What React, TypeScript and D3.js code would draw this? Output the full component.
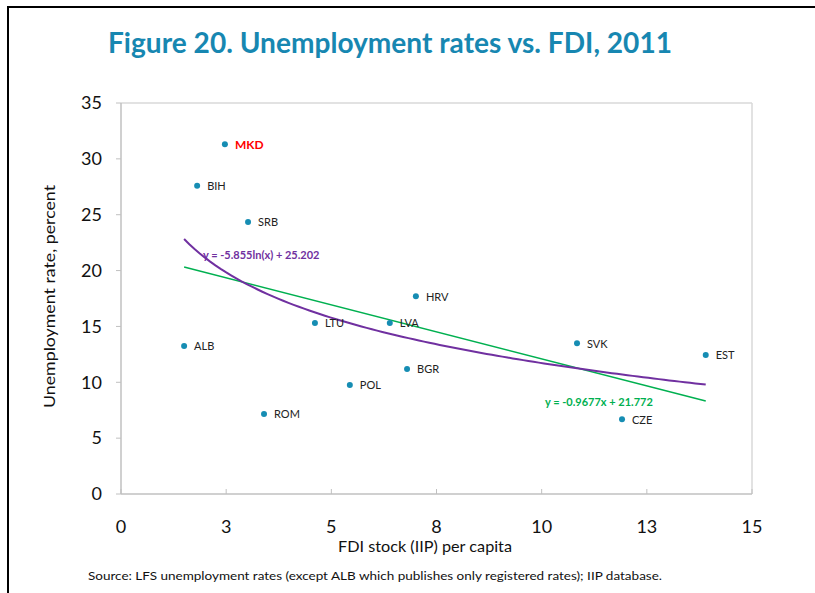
import React from "react";
import * as d3 from "d3";

const countries = ["MKD", "BIH", "SRB", "HRV", "LVA", "LTU", "ALB", "BGR", "POL", "ROM", "SVK", "EST", "CZE"];
const fdi = [2.47, 1.81, 3.02, 7.01, 6.39, 4.61, 1.5, 6.8, 5.44, 3.4, 10.84, 13.9, 11.91];
const unemployment = [31.3, 27.6, 24.35, 17.7, 15.3, 15.3, 13.25, 11.2, 9.76, 7.16, 13.5, 12.44, 6.7];
const highlighted = ["MKD"];

const xTicks = [0, 2.5, 5, 7.5, 10, 12.5, 15];
const xTickLabels = ["0", "3", "5", "8", "10", "13", "15"];
const yTicks = [0, 5, 10, 15, 20, 25, 30, 35];

const linearCoef = { slope: -0.9677, intercept: 21.772 };
const logCoef = { slope: -5.855, intercept: 25.202 };
const linearLabel = "y = -0.9677x + 21.772";
const logLabel = "y = -5.855ln(x) + 25.202";

const W = 815;
const H = 593;
const plot = { left: 121, right: 752, top: 103, bottom: 494 };
const FONT = "Lato, 'Open Sans', sans-serif";

export default function App() {
  const x = d3.scaleLinear().domain([0, 15]).range([plot.left, plot.right]);
  const y = d3.scaleLinear().domain([0, 35]).range([plot.bottom, plot.top]);

  const xMin = d3.min(fdi) as number;
  const xMax = d3.max(fdi) as number;

  const linePath = d3.line<number>()
    .x((d) => x(d))
    .y((d) => y(linearCoef.slope * d + linearCoef.intercept))([xMin, xMax]) as string;

  const logXs = d3.range(0, 101).map((i) => xMin + ((xMax - xMin) * i) / 100);
  const logPath = d3.line<number>()
    .x((d) => x(d))
    .y((d) => y(logCoef.slope * Math.log(d) + logCoef.intercept))
    .curve(d3.curveLinear)(logXs) as string;

  const axisColor = "#c0c0c0";

  return (
    <svg width={W} height={H} style={{ position: "absolute", left: 0, top: 0, background: "#fff" }} fontFamily={FONT}>
      {/* frame */}
      <line x1={8} x2={W} y1={7} y2={7} stroke="#000" strokeWidth={2} />
      <line x1={8} x2={8} y1={6} y2={H} stroke="#000" strokeWidth={2} />

      {/* title */}
      <text x={108} y={53} fontSize={28} fontWeight="bold" fill="#1787b1" textLength={564} lengthAdjust="spacingAndGlyphs">
        Figure 20. Unemployment rates vs. FDI, 2011
      </text>

      {/* plot box */}
      <line x1={plot.left} x2={plot.right} y1={plot.top} y2={plot.top} stroke="#d9d9d9" strokeWidth={1.5} />
      <line x1={plot.right} x2={plot.right} y1={plot.top} y2={plot.bottom} stroke="#d9d9d9" strokeWidth={1.5} />
      <line x1={plot.left} x2={plot.left} y1={plot.top} y2={plot.bottom} stroke={axisColor} strokeWidth={1.5} />
      <line x1={plot.left} x2={plot.right} y1={plot.bottom} y2={plot.bottom} stroke={axisColor} strokeWidth={1.5} />

      {/* y ticks */}
      {yTicks.map((t) => (
        <g key={"y" + t}>
          <line x1={plot.left - 5} x2={plot.left} y1={y(t)} y2={y(t)} stroke={axisColor} strokeWidth={1} />
          <text x={102} y={y(t)} dy="0.35em" textAnchor="end" fontSize={18} fill="#111">
            {t}
          </text>
        </g>
      ))}

      {/* x ticks */}
      {xTicks.map((t, i) => (
        <g key={"x" + t}>
          <line x1={x(t)} x2={x(t)} y1={plot.bottom} y2={plot.bottom - 5} stroke={axisColor} strokeWidth={1} />
          <text x={x(t)} y={527} dy="0.35em" textAnchor="middle" fontSize={18} fill="#111">
            {xTickLabels[i]}
          </text>
        </g>
      ))}

      {/* axis titles */}
      <text x={338} y={552} fontSize={16} fill="#111" textLength={174} lengthAdjust="spacingAndGlyphs">
        FDI stock (IIP) per capita
      </text>
      <text transform="translate(55,408) rotate(-90)" fontSize={16} fill="#111" textLength={223} lengthAdjust="spacingAndGlyphs">
        Unemployment rate, percent
      </text>

      {/* trendlines */}
      <path d={linePath} fill="none" stroke="#00b050" strokeWidth={1.5} />
      <path d={logPath} fill="none" stroke="#7030a0" strokeWidth={2} />

      {/* points */}
      {countries.map((c, i) => {
        const hi = highlighted.includes(c);
        return (
          <g key={c}>
            <circle cx={x(fdi[i])} cy={y(unemployment[i])} r={3} fill="#168db3" />
            <text
              x={x(fdi[i]) + 10}
              y={y(unemployment[i])}
              dy="0.4em"
              fontSize={hi ? 12 : 11}
              fontWeight={hi ? "bold" : "normal"}
              fill={hi ? "#ff0000" : "#222"}
            >
              {c}
            </text>
          </g>
        );
      })}

      {/* equations */}
      <text x={203} y={259} fontSize={11} fontWeight="bold" fill="#7030a0">
        {logLabel}
      </text>
      <text x={545} y={406} fontSize={11} fontWeight="bold" fill="#00b050">
        {linearLabel}
      </text>

      {/* source */}
      <text x={88} y={580} fontSize={12} fill="#111" textLength={574} lengthAdjust="spacingAndGlyphs">
        Source: LFS unemployment rates (except ALB which publishes only registered rates); IIP database.
      </text>
    </svg>
  );
}
